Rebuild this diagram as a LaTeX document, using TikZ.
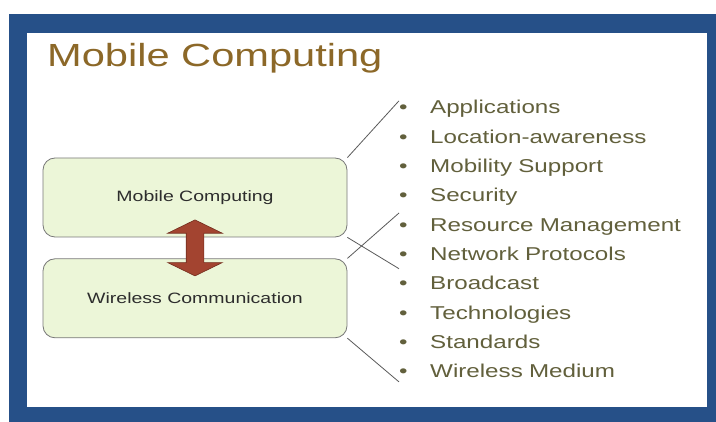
\documentclass[tikz,border=0pt]{standalone}
\usepackage{fontspec}
\setmainfont{Liberation Sans}[FakeStretch=1.3]
\usetikzlibrary{positioning,calc,shapes.arrows}
\definecolor{framecolor}{RGB}{38,80,136}
\definecolor{titlecolor}{RGB}{140,104,40}
\definecolor{topiccolor}{RGB}{98,96,60}
\definecolor{boxfill}{RGB}{236,246,216}
\definecolor{boxline}{RGB}{120,120,120}
\definecolor{boxtext}{RGB}{45,45,45}
\definecolor{arrowred}{RGB}{163,68,48}
\definecolor{arrowdark}{RGB}{115,45,30}
\definecolor{linkgray}{RGB}{90,90,90}

\begin{document}
\begin{tikzpicture}[x=1pt,y=-1pt,node distance=11.9pt,
    block/.style={draw=boxline,fill=boxfill,rounded corners=12pt,line width=0.8pt,
      minimum width=304pt,minimum height=79pt,text=boxtext,
      font=\fontsize{15}{18}\selectfont},
    topic/.style={text width=300pt,align=left,inner sep=0pt,
      text height=13pt,text depth=4pt,text=topiccolor,
      font=\fontsize{18.6}{22}\selectfont},
    connector/.style={draw=linkgray,line width=0.8pt}]
  \useasboundingbox (0,0) rectangle (716,422);
  % slide frame
  \fill[framecolor] (9,14) rectangle (716,422);
  \fill[white] (27,33) rectangle (707,407);
  \node[anchor=base west,inner sep=0pt,text=titlecolor,
    font=\fontsize{32}{36}\selectfont] (title) at (47,67) {Mobile Computing};

  % the two layers
  \node[block] (mc) at (195,197.5) {Mobile Computing};
  \node[block,below=21pt of mc] (wc) {Wireless Communication};
  \node[double arrow,fill=arrowred,draw=arrowdark,line width=0.6pt,rotate=90,
    minimum height=56pt,inner sep=8.5pt,double arrow head extend=18.5pt,
    double arrow tip angle=128] (bond) at ($(mc.south)!0.5!(wc.north)$) {};

  % topics
  \node[topic,anchor=base west] (apps) at (399,114)
    {\makebox[31pt][l]{\textbullet}Applications};
  \node[topic,below=of apps] (loc) {\makebox[31pt][l]{\textbullet}Location-awareness};
  \node[topic,below=of loc] (mob) {\makebox[31pt][l]{\textbullet}Mobility Support};
  \node[topic,below=of mob] (sec) {\makebox[31pt][l]{\textbullet}Security};
  \node[topic,below=of sec] (res) {\makebox[31pt][l]{\textbullet}Resource Management};
  \node[topic,below=of res] (net) {\makebox[31pt][l]{\textbullet}Network Protocols};
  \node[topic,below=of net] (bcast) {\makebox[31pt][l]{\textbullet}Broadcast};
  \node[topic,below=of bcast] (tech) {\makebox[31pt][l]{\textbullet}Technologies};
  \node[topic,below=of tech] (std) {\makebox[31pt][l]{\textbullet}Standards};
  \node[topic,below=of std] (med) {\makebox[31pt][l]{\textbullet}Wireless Medium};

  % brackets from the layers to their topics
  \draw[connector] (mc.north east) -- (apps.north west);
  \draw[connector] (mc.south east) -- ([yshift=-4pt]net.south west);
  \draw[connector] (wc.north east) -- ([yshift=5pt]res.north west);
  \draw[connector] (wc.south east) -- (med.south west);
\end{tikzpicture}
\end{document}
